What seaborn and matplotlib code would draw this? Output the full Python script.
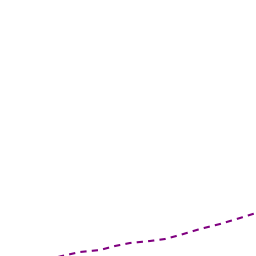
import matplotlib
matplotlib.use("Agg")
import matplotlib.pyplot as plt
import seaborn as sns
import pandas as pd

x_vals = [50, 62, 80, 100, 115, 130, 150, 165, 180, 200, 220, 240, 256]
y_vals = [-3, 0, 4, 6, 10, 13, 15, 17, 21, 27, 32, 38, 43]

df = pd.DataFrame({"x": x_vals, "y": y_vals})

fig = plt.figure(figsize=(2.56, 2.56), dpi=100)
ax = fig.add_axes([0, 0, 1, 1])
sns.lineplot(data=df, x="x", y="y", ax=ax, color="#800080", linewidth=1.5,
             linestyle=(0, (3, 2.5)))
ax.set_xlim(0, 256)
ax.set_ylim(0, 256)
ax.axis("off")
fig.savefig("out.png", dpi=100)
